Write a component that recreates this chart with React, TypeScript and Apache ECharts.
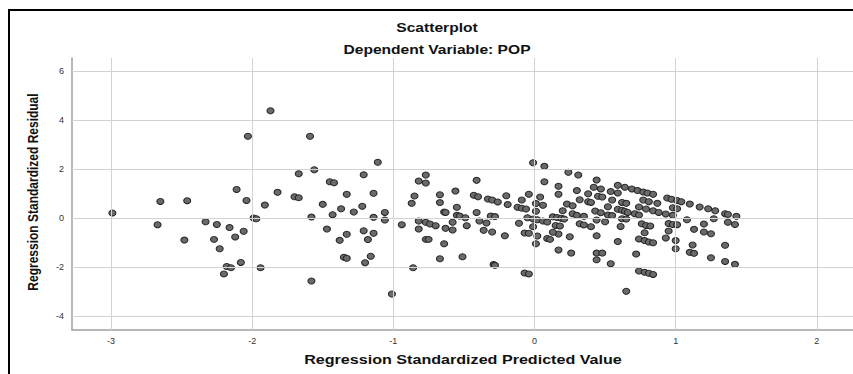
import React, { useEffect, useRef } from "react";
import * as echarts from "echarts";

const titleText = "Scatterplot";
const subtitleText = "Dependent Variable: POP";
const xAxisTitle = "Regression Standardized Predicted Value";
const yAxisTitle = "Regression Standardized Residual";

const xTicks = [-3, -2, -1, 0, 1, 2];
const yTicks = [-4, -2, 0, 2, 4, 6];

// Regression standardized predicted values
const predicted = [
  -2.99, -2.67, -2.65, -2.46, -2.48, -2.33, -2.25, -2.27, -2.23, -2.16, -2.12, -2.11, -2.06, -2.04, -2.03, -1.99,
  -1.97, -2.18, -2.15, -2.08, -2.2, -1.94, -1.91, -1.87, -1.82, -1.7, -1.67, -1.67, -1.59, -1.56, -1.58, -1.58,
  -1.5, -1.47, -1.45, -1.42, -1.43, -1.38, -1.37, -1.33, -1.33, -1.35, -1.33, -1.28, -1.22, -1.21, -1.21, -1.18,
  -1.2, -1.16, -1.14, -1.14, -1.14, -1.11, -1.06, -1.06, -1.01, -0.94, -0.86, -0.87, -0.85, -0.82, -0.77, -0.77,
  -0.82, -0.82, -0.77, -0.74, -0.7, -0.77, -0.75, -0.67, -0.67, -0.64, -0.63, -0.63, -0.64, -0.67, -0.58, -0.58,
  -0.56, -0.55, -0.55, -0.53, -0.49, -0.48, -0.51, -0.43, -0.4, -0.41, -0.41, -0.39, -0.36, -0.33, -0.3, -0.26,
  -0.34, -0.31, -0.28, -0.3, -0.29, -0.28, -0.2, -0.19, -0.21, -0.11, -0.12, -0.09, -0.09, -0.06, -0.04, -0.07,
  -0.04, -0.07, -0.04, -0.01, 0.07, 0.07, 0.01, 0.04, 0.06, 0.01, -0.05, -0.01, 0.02, 0.06, 0.09, -0.01,
  0.02, 0.01, 0.09, 0.11, 0.13, 0.15, 0.17, 0.17, 0.17, 0.17, 0.16, 0.19, 0.21, 0.18, 0.13,
  0.24, 0.31, 0.44, 0.3, 0.38, 0.42, 0.47, 0.45, 0.48, 0.54, 0.59, 0.59, 0.64, 0.69, 0.73, 0.77, 0.8, 0.84,
  0.23, 0.27, 0.2, 0.32, 0.38, 0.4, 0.55, 0.52, 0.62, 0.65, 0.77, 0.81, 0.87, 0.74, 0.79, 0.84, 0.88, 0.93, 0.98,
  0.94, 0.97, 1.01, 1.04, 1.1, 0.98, 1.01, 1.17, 1.23, 1.28, 1.35, 1.37, 1.43,
  0.27, 0.3, 0.35, 0.43, 0.47, 0.52, 0.55, 0.59, 0.62, 0.64, 0.66, 0.71, 0.74, 0.44, 0.5, 0.62, 0.65,
  0.32, 0.35, 0.4, 0.44, 0.59, 0.61, 0.76, 0.79, 0.82, 0.78, 0.74, 0.78, 0.81, 0.84, 0.95, 0.98, 1.01, 0.95,
  0.93, 1.0, 1.0, 1.08, 1.13, 1.2, 1.2, 1.25, 1.27, 1.37, 1.42, 1.12, 1.1, 1.13, 1.35, 1.25, 1.35, 1.42,
  0.25, 0.26, 0.44, 0.48, 0.44, 0.54, 0.72, 0.74, 0.78, 0.81, 0.84, 0.65,
];

// Regression standardized residuals (same order)
const residual = [
  0.22, -0.26, 0.69, 0.72, -0.89, -0.14, -0.25, -0.86, -1.24, -0.38, -0.76, 1.18, -0.53, 0.73, 3.35, 0.01,
  -0.02, -1.97, -2.02, -1.8, -2.27, -2.02, 0.54, 4.39, 1.06, 0.88, 0.84, 1.82, 3.35, 1.98, 0.05, -2.56,
  0.57, -0.44, 1.49, 1.45, 0.15, -0.9, 0.39, 0.98, -0.65, -1.59, -1.63, 0.26, 0.49, 1.78, -0.51, -0.87,
  -1.81, -1.55, 1.02, 0.04, -0.61, 2.29, 0.24, -0.07, -3.09, -0.26, -2.02, 0.61, 0.91, 1.52, 1.77, 1.44,
  -0.11, -0.44, -0.16, -0.23, -0.3, -0.86, -0.86, 0.96, 0.64, 0.26, 0.24, -0.41, -1.04, -1.65, -0.16, -0.48,
  1.11, 0.45, 0.12, 0.09, 0.02, -0.3, -1.57, 0.94, 0.88, 1.55, 0.24, -0.11, -0.49, 0.79, 0.75, 0.67,
  -0.19, 0.09, 0.07, -0.56, -1.89, -1.92, 0.92, 0.56, -0.71, -0.2, 0.45, 0.75, 0.41, 0.38, 0.98, -0.6,
  -0.61, -2.23, -2.27, 2.27, 2.12, 1.49, 0.6, 0.87, 0.53, 0.29, 0.02, -0.03, -0.06, -0.11, -0.15, -0.34,
  -0.72, -1.04, -0.82, -0.86, 0.06, -0.29, 1.31, 0.98, -0.64, -1.29, 0.03, 0.0, -0.03, -0.31, -0.57,
  1.88, 1.77, 1.56, 1.13, 1.0, 1.27, 1.2, 0.9, 0.87, 1.09, 1.03, 1.35, 1.27, 1.2, 1.13, 1.07, 1.03, 0.98,
  0.58, 0.51, 0.31, 0.76, 0.68, 0.65, 0.75, 0.47, 0.65, 0.61, 0.75, 0.68, 0.61, 0.46, 0.38, 0.31, 0.24, 0.18, 0.12,
  0.83, 0.78, 0.73, 0.68, 0.58, 0.43, 0.39, 0.46, 0.39, 0.31, 0.19, 0.16, 0.08,
  0.19, 0.12, 0.08, 0.3, 0.23, 0.13, 0.11, 0.37, 0.33, 0.29, 0.24, 0.19, 0.13, -0.07, -0.14, -0.02, -0.03,
  -0.22, -0.27, -0.34, -0.71, -0.95, -0.33, -0.22, -0.29, -0.31, -0.59, -0.84, -0.91, -0.97, -1.0, -0.21, -0.25, -0.26, -0.52,
  -0.8, -0.91, -1.24, -0.06, -0.45, -0.23, -0.56, -0.63, -0.02, -0.16, -0.25, -1.09, -1.39, -1.43, -1.1, -1.61, -1.76, -1.88,
  -0.75, -1.42, -1.42, -1.42, -1.69, -1.85, -1.46, -2.15, -2.2, -2.24, -2.29, -2.98,
];

const FONT = '"Liberation Sans", Arial, sans-serif';

export default function App() {
  const ref = useRef<HTMLDivElement>(null);

  useEffect(() => {
    document.body.style.margin = "0";
    if (!ref.current) return;
    const chart = echarts.init(ref.current, null, { renderer: "svg" });
    const points = predicted.map((x, i) => [x, residual[i]]);
    const gridLineStyle = { color: "#d2d2d2", width: 1, type: "solid" as const };

    chart.setOption({
      animation: false,
      backgroundColor: "#ffffff",
      grid: { left: 72, top: 58, right: 0, bottom: 44, containLabel: false },
      xAxis: {
        type: "value",
        min: -3.276,
        max: 2.256,
        splitLine: { show: false },
        axisTick: { show: false },
        axisLine: { show: true, onZero: false, lineStyle: { color: "#a0a0a0", width: 1.5 } },
        axisLabel: {
          customValues: xTicks,
          color: "#333",
          fontSize: 9,
          fontFamily: FONT,
          margin: 6,
        },
      },
      yAxis: {
        type: "value",
        min: -4.559,
        max: 6.543,
        splitLine: { show: false },
        axisTick: { show: false },
        axisLine: { show: true, onZero: false, lineStyle: { color: "#a0a0a0", width: 1.5 } },
        axisLabel: {
          customValues: yTicks,
          color: "#333",
          fontSize: 9,
          fontFamily: FONT,
          margin: 8,
        },
      },
      series: [
        {
          type: "line",
          data: [],
          z: 1,
          silent: true,
          markLine: {
            silent: true,
            symbol: ["none", "none"],
            label: { show: false },
            lineStyle: gridLineStyle,
            data: [
              ...xTicks.map((v) => ({ xAxis: v })),
              ...yTicks.map((v) => ({ yAxis: v })),
            ],
          },
        },
        {
          type: "scatter",
          z: 3,
          data: points,
          symbol: "circle",
          symbolSize: [7, 6],
          itemStyle: { color: "#6a6a6a", borderColor: "#262626", borderWidth: 1, opacity: 1 },
        },
      ],
      graphic: [
        {
          type: "rect",
          silent: true,
          shape: { x: 9, y: 10, width: 950, height: 450 },
          style: { fill: "none", stroke: "#000", lineWidth: 2 },
          z: 10,
        },
        {
          type: "text",
          x: 437,
          y: 27,
          scaleX: 1.2,
          style: {
            text: titleText,
            textAlign: "center",
            textVerticalAlign: "middle",
            fontSize: 13,
            fontWeight: "bold",
            fontFamily: FONT,
            fill: "#111",
          },
        },
        {
          type: "text",
          x: 437,
          y: 49,
          scaleX: 1.2,
          style: {
            text: subtitleText,
            textAlign: "center",
            textVerticalAlign: "middle",
            fontSize: 13,
            fontWeight: "bold",
            fontFamily: FONT,
            fill: "#111",
          },
        },
        {
          type: "text",
          x: 463,
          y: 360,
          scaleX: 1.24,
          style: {
            text: xAxisTitle,
            textAlign: "center",
            textVerticalAlign: "middle",
            fontSize: 13,
            fontWeight: "bold",
            fontFamily: FONT,
            fill: "#111",
          },
        },
        {
          type: "text",
          x: 33,
          y: 192,
          rotation: Math.PI / 2,
          scaleY: 1.15,
          style: {
            text: yAxisTitle,
            textAlign: "center",
            textVerticalAlign: "middle",
            fontSize: 12,
            fontWeight: "bold",
            fontFamily: FONT,
            fill: "#111",
          },
        },
      ],
    });

    return () => {
      chart.dispose();
    };
  }, []);

  return <div ref={ref} style={{ width: 853, height: 374 }} />;
}
